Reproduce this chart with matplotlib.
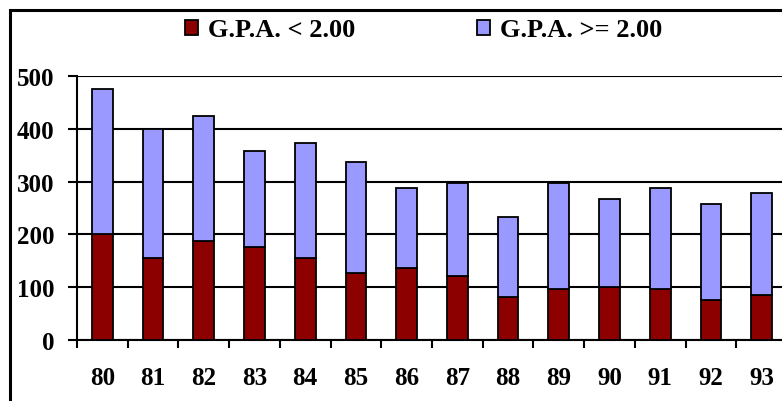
import matplotlib.pyplot as plt
from matplotlib.patches import Rectangle
import numpy as np

years = ['80', '81', '82', '83', '84', '85', '86', '87', '88', '89', '90', '91', '92', '93']
gpa_low = [200, 155, 187, 176, 155, 126, 137, 121, 81, 97, 101, 97, 76, 85]
gpa_high = [275, 245, 237, 182, 219, 212, 151, 176, 152, 200, 166, 191, 182, 193]

plt.rcParams['font.family'] = ['Liberation Serif', 'DejaVu Serif']
plt.rcParams['font.weight'] = 'bold'

red = '#8c0000'
blue = '#9999ff'

fig = plt.figure(figsize=(7.82, 4.02), dpi=100)
ax = fig.add_axes([77 / 782, 61 / 402, 710 / 782, 264 / 402])

x = np.arange(len(years))
ax.bar(x, gpa_low, width=0.41, color=red, edgecolor='black', linewidth=1.3,
       label='G.P.A. < 2.00', zorder=3)
ax.bar(x, gpa_high, width=0.41, bottom=gpa_low, color=blue, edgecolor='black',
       linewidth=1.3, label='G.P.A. >= 2.00', zorder=3)

ax.set_xlim(-0.5, len(years) - 0.5)
ax.set_ylim(0, 500)
ax.set_yticks(range(0, 501, 100))
ax.tick_params(axis='y', direction='out', length=6.5, width=1.5, labelsize=18, pad=10)
ax.set_xticks(x)
ax.set_xticklabels(years)
ax.tick_params(axis='x', which='major', length=0, labelsize=18, pad=19)
ax.set_xticks(np.arange(-0.5, len(years)), minor=True)
ax.tick_params(axis='x', which='minor', direction='out', length=5.5, width=1.5)

ax.yaxis.grid(True, color='black', linewidth=1.5, zorder=0)
ax.set_axisbelow(True)
for s in ['top', 'right']:
    ax.spines[s].set_visible(False)
for s in ['left', 'bottom']:
    ax.spines[s].set_linewidth(1.5)

fig.legend(loc='center', bbox_to_anchor=(0.5416, 0.923), ncol=2, frameon=False,
           fontsize=19, handlelength=0.49, handleheight=0.49, handletextpad=0.38,
           columnspacing=4.6)

# outer chart border, clipped at the right and bottom like the original
fig.patches.append(Rectangle((9.5 / 782, -0.2), 1.2, 1.2 - 10.5 / 402,
                             transform=fig.transFigure, fill=False,
                             edgecolor='black', linewidth=2.2))

fig.savefig('out.png', dpi=100)
